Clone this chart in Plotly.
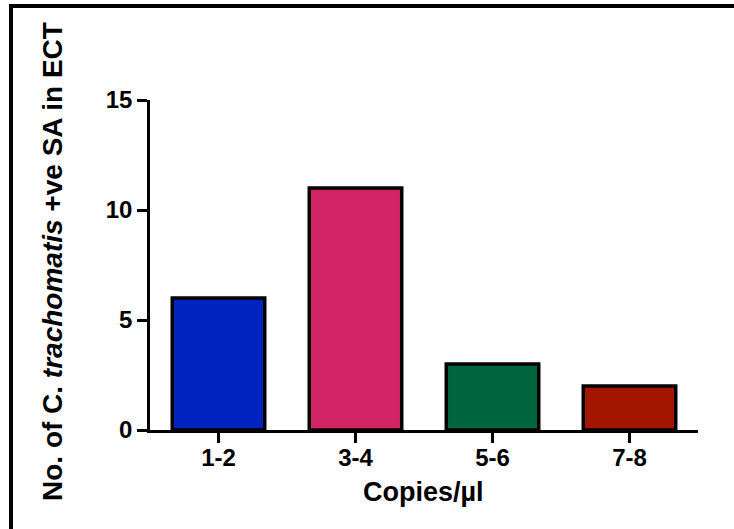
import plotly.graph_objects as go

categories = ["1-2", "3-4", "5-6", "7-8"]
counts = [6, 11, 3, 2]
bar_colors = ["#0022BE", "#D22464", "#006640", "#A31600"]
y_ticks = [0, 5, 10, 15]

W, H = 734, 529
ML, MR, MT, MB = 150, 36, 100, 99
pw, ph = W - ML - MR, H - MT - MB

def px_x(px):
    return (px - ML) / pw

def px_y(py):
    return (H - MB - py) / ph

FONT = "Liberation Sans, Arial, sans-serif"

fig = go.Figure()
fig.add_trace(go.Bar(
    x=categories, y=counts,
    marker=dict(color=bar_colors, line=dict(color="black", width=3.5)),
    width=0.675,
))

fig.update_layout(
    width=W, height=H,
    margin=dict(l=ML, r=MR, t=MT, b=MB, pad=0),
    paper_bgcolor="white", plot_bgcolor="white",
    showlegend=False,
    font=dict(family=FONT, color="black"),
)
fig.update_xaxes(
    range=[-0.5, 3.5], showline=True, linecolor="black", linewidth=2.5,
    ticks="outside", ticklen=10, tickwidth=2.5, tickcolor="black",
    tickfont=dict(family=FONT, size=24, color="black", weight="bold"),
    ticklabelstandoff=-6,
    showgrid=False, zeroline=False,
)
fig.update_yaxes(
    range=[0, 15], tickvals=y_ticks, showline=True, linecolor="black", linewidth=2.5,
    ticks="outside", ticklen=10, tickwidth=2.5, tickcolor="black",
    tickfont=dict(family=FONT, size=24, color="black", weight="bold"),
    showgrid=False, zeroline=False,
)

fig.add_annotation(
    text="<b>Copies/µl</b>", xref="paper", yref="paper",
    x=px_x(423), y=px_y(492), xanchor="center", yanchor="middle",
    showarrow=False, font=dict(family=FONT, size=27, color="black"),
)
fig.add_annotation(
    text="<b>No. of C. <i>trachomatis</i> +ve SA in ECT</b>", xref="paper", yref="paper",
    x=px_x(52), y=px_y(262), xanchor="center", yanchor="middle", textangle=-90,
    showarrow=False, font=dict(family=FONT, size=28, color="black"),
)

# frame (left and top edges)
fig.add_shape(type="rect", xref="paper", yref="paper",
              x0=px_x(9), x1=px_x(13), y0=px_y(4), y1=px_y(529),
              fillcolor="black", line=dict(width=0), layer="above")
fig.add_shape(type="rect", xref="paper", yref="paper",
              x0=px_x(9), x1=px_x(734), y0=px_y(4), y1=px_y(8),
              fillcolor="black", line=dict(width=0), layer="above")

fig.write_html(
    "out.html",
    config={"displayModeBar": False},
    post_script="document.body.style.margin='0';document.body.style.overflow='hidden';",
)
